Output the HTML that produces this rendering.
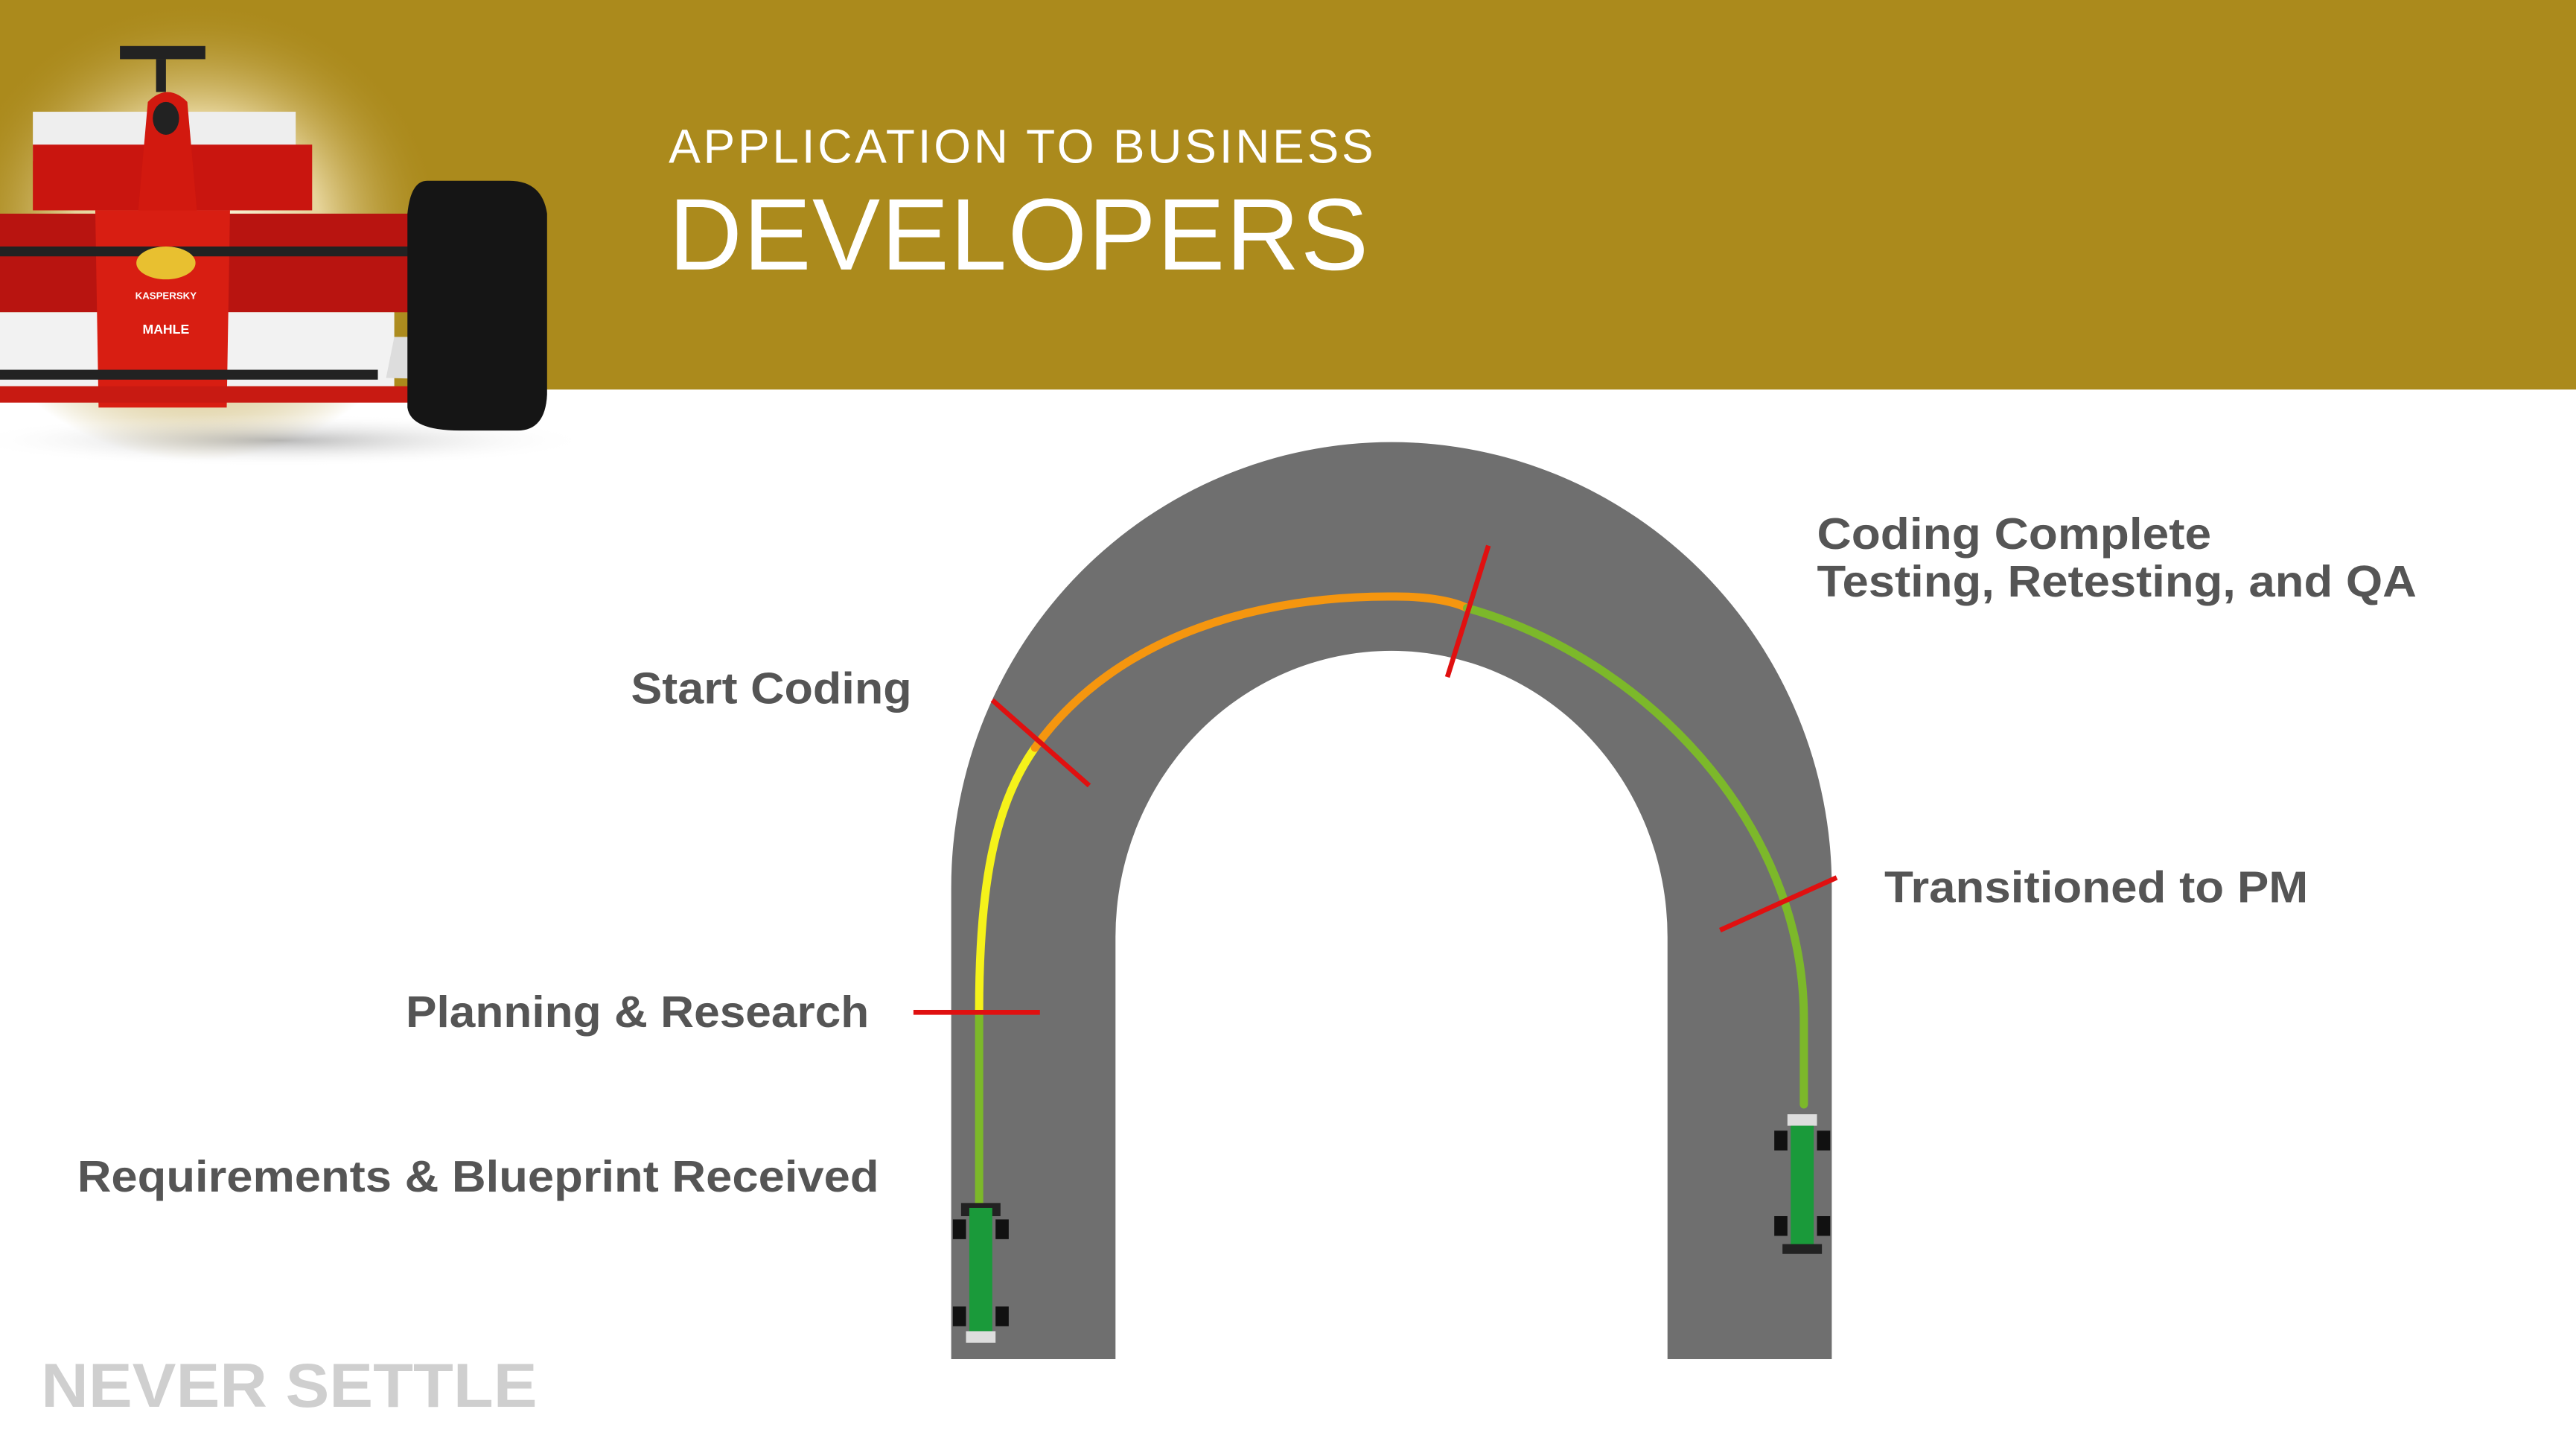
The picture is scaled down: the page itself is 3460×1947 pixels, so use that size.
<!DOCTYPE html>
<html><head><meta charset="utf-8"><style>
html,body{margin:0;padding:0;background:#fff}
svg{display:block}
text{font-family:"Liberation Sans",sans-serif}
</style></head><body>
<svg width="3460" height="1947" viewBox="0 0 1568 882.3" preserveAspectRatio="none" xmlns="http://www.w3.org/2000/svg">
<defs>
<radialGradient id="glow" cx="0.5" cy="0.5" r="0.5">
<stop offset="0" stop-color="#fffbe8"/><stop offset="0.5" stop-color="#e6d49a"/><stop offset="1" stop-color="#ab8a1c" stop-opacity="0"/>
</radialGradient>
<radialGradient id="shadow" cx="0.5" cy="0.5" r="0.5">
<stop offset="0" stop-color="#888" stop-opacity="0.6"/><stop offset="1" stop-color="#fff" stop-opacity="0"/>
</radialGradient>
</defs>
<rect x="0" y="0" width="1568" height="237" fill="#ab8a1c"/>
<ellipse cx="120" cy="140" rx="150" ry="140" fill="url(#glow)"/>
<!-- car -->
<ellipse cx="170" cy="268" rx="190" ry="16" fill="url(#shadow)"/>
<rect x="73" y="28" width="52" height="8" fill="#222"/>
<rect x="95" y="36" width="6" height="20" fill="#222"/>
<rect x="20" y="68" width="160" height="30" fill="#eee"/>
<rect x="20" y="88" width="170" height="40" fill="#c9150f"/>
<path d="M84,130 L90,62 Q102,50 114,62 L120,130 Z" fill="#d2190f"/>
<ellipse cx="101" cy="72" rx="8" ry="10" fill="#222"/>
<rect x="0" y="130" width="250" height="60" fill="#b81410"/>
<rect x="0" y="190" width="240" height="45" fill="#f2f2f2"/>
<path d="M58,128 L140,128 L138,248 L60,248 Z" fill="#d81e12"/>
<rect x="0" y="150" width="250" height="6" fill="#222"/>
<rect x="0" y="225" width="230" height="6" fill="#222"/>
<path d="M235,230 L320,232 L330,205 L240,205 Z" fill="#ddd"/>
<rect x="0" y="235" width="300" height="10" fill="#c81a12"/>
<path d="M260,110 Q250,110 248,130 L248,248 Q250,262 280,262 L315,262 Q332,262 333,240 L333,130 Q330,110 310,110 Z" fill="#151515"/>
<ellipse cx="101" cy="160" rx="18" ry="10" fill="#e8c030"/>
<text x="101" y="182" font-size="6" fill="#fff" text-anchor="middle" font-weight="bold">KASPERSKY</text>
<text x="101" y="203" font-size="8" fill="#fff" text-anchor="middle" font-weight="bold">MAHLE</text>
<!-- header text -->
<text x="407" y="99" font-size="29" fill="#fff" textLength="429">APPLICATION TO BUSINESS</text>
<text x="407" y="164" font-size="62" fill="#fff" textLength="426">DEVELOPERS</text>
<!-- track -->
<path d="M579,827 L579,540 A268,271 0 0 1 1115,540 L1115,827 L1015,827 L1015,570 A168,174 0 0 0 679,570 L679,827 Z" fill="#6f6f6f"/>
<!-- racing line -->
<g fill="none" stroke-width="5" stroke-linecap="round">
<path d="M596,735 L596,615" stroke="#7cb82a"/>
<path d="M596,615 C596,540 605,490 630,455" stroke="#f5f21a"/>
<path d="M630,455 C680,385 770,362 850,363 C870,363 885,366 893,370" stroke="#f5960f"/>
<path d="M893,370 C1000,400 1098,500 1098,620 L1098,672" stroke="#7cb82a"/>
</g>
<g stroke="#e01010" stroke-width="3">
<line x1="556" y1="616" x2="633" y2="616"/>
<line x1="604" y1="426" x2="663" y2="478"/>
<line x1="906" y1="332" x2="881" y2="412"/>
<line x1="1047" y1="566" x2="1118" y2="534"/>
</g>
<!-- small cars -->
<g>
<rect x="585" y="732" width="24" height="8" fill="#222"/>
<rect x="590" y="735" width="14" height="75" fill="#1a9a3a"/>
<rect x="580" y="742" width="8" height="12" fill="#111"/><rect x="606" y="742" width="8" height="12" fill="#111"/>
<rect x="580" y="795" width="8" height="12" fill="#111"/><rect x="606" y="795" width="8" height="12" fill="#111"/>
<rect x="588" y="810" width="18" height="7" fill="#ddd"/>
</g>
<g>
<rect x="1088" y="678" width="18" height="7" fill="#ddd"/>
<rect x="1090" y="685" width="14" height="75" fill="#1a9a3a"/>
<rect x="1080" y="688" width="8" height="12" fill="#111"/><rect x="1106" y="688" width="8" height="12" fill="#111"/>
<rect x="1080" y="740" width="8" height="12" fill="#111"/><rect x="1106" y="740" width="8" height="12" fill="#111"/>
<rect x="1085" y="757" width="24" height="6" fill="#222"/>
</g>
<!-- labels -->
<g font-size="27" font-weight="bold" fill="#555">
<text x="555" y="428" text-anchor="end" textLength="171" lengthAdjust="spacingAndGlyphs">Start Coding</text>
<text x="529" y="625" text-anchor="end" textLength="282" lengthAdjust="spacingAndGlyphs">Planning &amp; Research</text>
<text x="47" y="725" textLength="488" lengthAdjust="spacingAndGlyphs">Requirements &amp; Blueprint Received</text>
<text x="1106" y="334" textLength="240" lengthAdjust="spacingAndGlyphs">Coding Complete</text>
<text x="1106" y="363" textLength="365" lengthAdjust="spacingAndGlyphs">Testing, Retesting, and QA</text>
<text x="1147" y="549" textLength="258" lengthAdjust="spacingAndGlyphs">Transitioned to PM</text>
</g>
<text x="25" y="856" font-size="38" font-weight="bold" fill="#cfcfcf" textLength="302" lengthAdjust="spacingAndGlyphs">NEVER SETTLE</text>
</svg>
</body></html>
